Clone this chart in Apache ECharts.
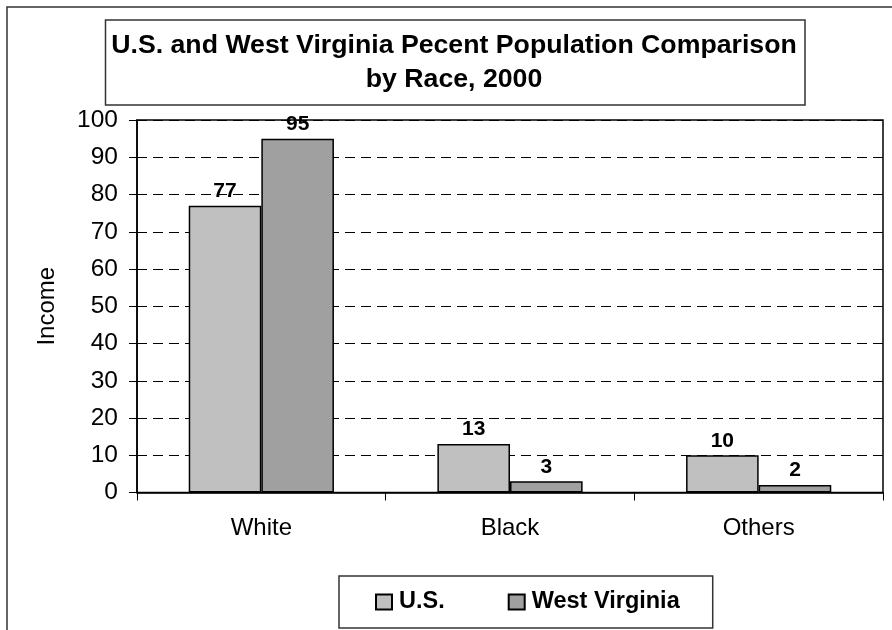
<!DOCTYPE html>
<html>
<head>
  <meta charset="utf-8">
  <title>U.S. and West Virginia Percent Population</title>
  <script src="https://cdn.jsdelivr.net/npm/echarts@6/dist/echarts.min.js"></script>
  <style>
    html, body { margin: 0; padding: 0; background: #fff; }
    #chart { width: 892px; height: 630px; }
  </style>
</head>
<body>
  <div id="chart"></div>
  <script>
    // data
    let races = ['White', 'Black', 'Others'];
    let usValues = [77, 13, 10];
    let wvValues = [95, 3, 2];
    let seriesNames = ['U.S.', 'West Virginia'];

    let font = 'Liberation Sans, Arial, sans-serif';

    let myChart = echarts.init(document.getElementById('chart'));
    let option = {
      animation: false,
      backgroundColor: '#fff',
      title: {
        text: 'U.S. and West Virginia Pecent Population Comparison\nby Race, 2000',
        left: 449,
        top: 24,
        textAlign: 'center',
        padding: 5,
        textStyle: {
          fontFamily: font,
          fontSize: 26.7,
          fontWeight: 'bold',
          color: '#000',
          lineHeight: 33.5
        }
      },
      graphic: [
        {
          // outer chart border (cut off on the right and bottom)
          type: 'rect',
          z: -1,
          shape: { x: 7, y: 7, width: 1000, height: 1000 },
          style: { fill: 'none', stroke: '#333', lineWidth: 1.5 }
        },
        {
          // title box
          type: 'rect',
          z: -1,
          shape: { x: 105.5, y: 20, width: 699.5, height: 85 },
          style: { fill: 'none', stroke: '#333', lineWidth: 1.5 }
        }
      ],
      legend: {
        data: seriesNames,
        left: 339,
        top: 576,
        padding: [14, 33, 14, 36],
        itemGap: 63,
        itemWidth: 16,
        itemHeight: 15,
        icon: 'rect',
        borderColor: '#333',
        borderWidth: 1.5,
        textStyle: {
          fontFamily: font,
          fontSize: 23.5,
          fontWeight: 'bold',
          color: '#000',
          padding: [0, 0, 0, 2]
        }
      },
      grid: {
        left: 137,
        right: 9,
        top: 120,
        bottom: 137.5,
        show: true,
        borderColor: '#000',
        borderWidth: 1.5
      },
      xAxis: {
        type: 'category',
        data: races,
        axisLine: { lineStyle: { color: '#000', width: 1.5 } },
        axisTick: { show: true, length: 8, lineStyle: { color: '#000' } },
        axisLabel: {
          margin: 24,
          fontFamily: font,
          fontSize: 24,
          color: '#000'
        }
      },
      yAxis: {
        type: 'value',
        min: 0,
        max: 100,
        interval: 10,
        name: 'Income',
        nameLocation: 'middle',
        nameRotate: 90,
        nameGap: 78,
        nameTextStyle: {
          fontFamily: font,
          fontSize: 24,
          color: '#000'
        },
        axisLine: { show: true, lineStyle: { color: '#000', width: 1.5 } },
        axisTick: { show: true, length: 8, lineStyle: { color: '#000' } },
        axisLabel: {
          margin: 19,
          fontFamily: font,
          fontSize: 24.5,
          color: '#000'
        },
        splitLine: {
          show: true,
          lineStyle: { color: '#000', width: 1, type: [10, 6] }
        }
      },
      series: [
        {
          name: seriesNames[0],
          type: 'bar',
          data: usValues,
          barGap: '0%',
          barCategoryGap: '41.6%',
          itemStyle: { color: '#c0c0c0', borderColor: '#000', borderWidth: 1.5 },
          label: {
            show: true,
            position: 'top',
            distance: 4,
            fontFamily: font,
            fontSize: 21,
            fontWeight: 'bold',
            color: '#000'
          }
        },
        {
          name: seriesNames[1],
          type: 'bar',
          data: wvValues,
          barGap: '0%',
          barCategoryGap: '41.6%',
          itemStyle: { color: '#a0a0a0', borderColor: '#000', borderWidth: 1.5 },
          label: {
            show: true,
            position: 'top',
            distance: 4,
            fontFamily: font,
            fontSize: 21,
            fontWeight: 'bold',
            color: '#000'
          }
        }
      ]
    };
    myChart.setOption(option);
  </script>
</body>
</html>
